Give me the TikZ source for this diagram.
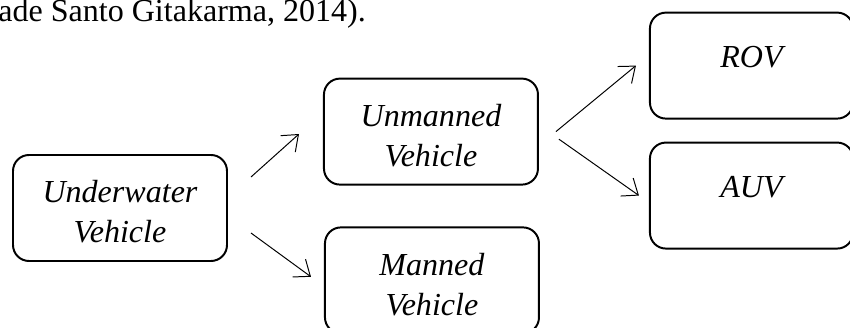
\documentclass[tikz,border=0pt]{standalone}
\usepackage{fontspec}
\setmainfont{Liberation Serif}
\usepackage{tikz}
\usetikzlibrary{positioning,arrows.meta}
\tikzset{
  veh/.style={draw, line width=1.4pt, rounded corners=0.4cm, minimum width=5.35cm, minimum height=2.65cm, inner sep=0pt, align=center, font=\fontsize{22.8}{28.5}\selectfont\itshape},
  pair/.style={veh, text height=1.75cm, text depth=0cm},
  sub/.style={veh, minimum width=5.08cm, text height=0.55cm, text depth=0.475cm},
  flow/.style={-{Straight Barb[length=3.5mm,width=5.5mm]}, line width=0.7pt}
}
\begin{document}
\begin{tikzpicture}[node distance=0.55cm and 2.4cm]
  \useasboundingbox (0,0) rectangle (21.25,8.2);
  \clip (0,0) rectangle (21.25,8.2);
  \node[anchor=base west, inner sep=0pt, font=\fontsize{22.8}{28.5}\selectfont] (cite) at (-0.05,7.66) {ade Santo Gitakarma, 2014).};

  \node[pair] (uv) at (3,3) {Underwater\\Vehicle};
  \node[pair, right=2.375cm of uv, yshift=1.91cm] (unm) {Unmanned\\Vehicle};
  \node[pair, right=2.4cm of uv, yshift=-1.81cm] (man) {Manned\\Vehicle};
  \node[sub, right=2.75cm of unm, yshift=1.65cm] (rov) {ROV};
  \node[sub, below=of rov] (auv) {AUV};

  \draw[flow] ([xshift=0.575cm,yshift=0.775cm]uv.east) -- ([xshift=-0.6cm,yshift=-0.06cm]unm.west);
  \draw[flow] ([xshift=0.575cm,yshift=-0.625cm]uv.east) -- ([xshift=-0.325cm,yshift=0.09cm]man.west);
  \draw[flow] ([xshift=0.425cm]unm.east) -- ([xshift=-0.325cm]rov.west);
  \draw[flow] ([xshift=0.5cm,yshift=-0.19cm]unm.east) -- ([xshift=-0.25cm]auv.west);
\end{tikzpicture}
\end{document}
